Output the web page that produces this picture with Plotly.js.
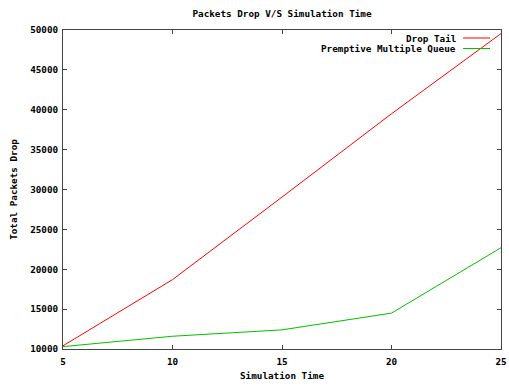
<!DOCTYPE html>
<html>
<head>
<meta charset="utf-8">
<script src="https://cdn.plot.ly/plotly-3.0.1.min.js"></script>
<style>html,body{margin:0;padding:0;background:#fff;}#chart{width:509px;height:387px;}</style>
</head>
<body>
<div id="chart"></div>
<script>
const simulationTime = [5, 10, 15, 20, 25];
const dropTail = [10400, 18700, 29050, 39500, 49550];
const premptiveMultipleQueue = [10300, 11600, 12400, 14500, 22700];
const seriesNames = ["Drop Tail", "Premptive Multiple Queue"];
const seriesColors = ["#ff0000", "#00c000"];
const xTicks = [5, 10, 15, 20, 25];
const yTicks = [10000, 15000, 20000, 25000, 30000, 35000, 40000, 45000, 50000];

const FONT = "DejaVu Sans Mono";
const fs = 9.3;
const W = 509, H = 387;
const margin = {l: 63, r: 8, t: 30, b: 38};
const pw = W - margin.l - margin.r, ph = H - margin.t - margin.b;

const traces = [dropTail, premptiveMultipleQueue].map((ys, i) => ({
  x: simulationTime, y: ys, type: "scatter", mode: "lines",
  name: seriesNames[i], line: {color: seriesColors[i], width: 1}, showlegend: false
}));

// legend drawn inside plot, text right aligned, sample line on right (gnuplot style)
const legY = [38, 48.5];
const annotations = seriesNames.map((n, i) => ({
  text: "<b>" + n + "</b>", xref: "paper", yref: "paper",
  x: (458 - margin.l) / pw, y: 1 - (legY[i] - margin.t) / ph,
  xanchor: "right", yanchor: "middle", showarrow: false,
  font: {family: FONT, size: fs, color: "#000"}
}));
const shapes = seriesNames.map((n, i) => ({
  type: "line", xref: "paper", yref: "paper",
  x0: (463 - margin.l) / pw, x1: (490 - margin.l) / pw,
  y0: 1 - (legY[i] - margin.t) / ph, y1: 1 - (legY[i] - margin.t) / ph,
  line: {color: seriesColors[i], width: 1}
}));

const axisCommon = {
  showgrid: false, zeroline: false, showline: true, mirror: "allticks",
  linecolor: "#444", linewidth: 1, ticks: "inside", ticklen: 4, tickcolor: "#444",
  tickfont: {family: FONT, size: fs, color: "#000", weight: "bold"}
};

const layout = {
  width: W, height: H, margin: margin,
  paper_bgcolor: "#fff", plot_bgcolor: "#fff",
  font: {family: FONT, size: fs, color: "#000"},
  title: {text: "<b>Packets Drop V/S Simulation Time</b>", font: {family: FONT, size: fs},
          x: (margin.l + pw / 2) / W, xanchor: "center", y: 1 - 14 / H, yanchor: "middle", yref: "container"},
  xaxis: Object.assign({}, axisCommon, {
    range: [5, 25], tickvals: xTicks, ticktext: xTicks.map(String), ticklabelstandoff: 4,
    title: {text: "<b>Simulation Time</b>", font: {family: FONT, size: fs}, standoff: 6}
  }),
  yaxis: Object.assign({}, axisCommon, {
    range: [10000, 50000], tickvals: yTicks, ticktext: yTicks.map(String), ticklabelstandoff: 2,
    title: {text: "<b>Total Packets Drop</b>", font: {family: FONT, size: fs}, standoff: 10}
  }),
  annotations: annotations, shapes: shapes
};

Plotly.newPlot("chart", traces, layout, {staticPlot: true, displayModeBar: false});
</script>
</body>
</html>
